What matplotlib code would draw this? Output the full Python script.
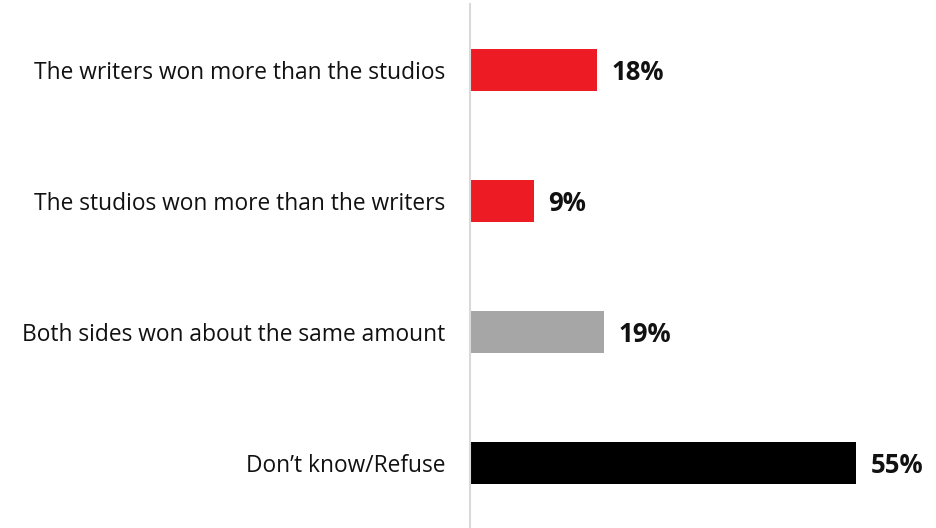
import matplotlib.pyplot as plt

categories = [
    "The writers won more than the studios",
    "The studios won more than the writers",
    "Both sides won about the same amount",
    "Don\u2019t know/Refuse",
]
values = [18, 9, 19, 55]
colors = ["#ED1C24", "#ED1C24", "#A6A6A6", "#000000"]

plt.rcParams["font.family"] = ["Open Sans", "DejaVu Sans"]

fig = plt.figure(figsize=(9.37, 5.28), dpi=100)
ax = fig.add_axes([470 / 937, 1 / 528, 467 / 937, 523 / 528])

pos = list(range(len(categories)))
ax.barh(pos, values, height=0.32, color=colors, left=0.15)
ax.set_ylim(3.49, -0.5)
ax.set_xlim(0, 66.7)

# bold value labels just past the end of each bar
for p, v in zip(pos, values):
    ax.text(v + 2.2, p + 0.02, f"{v}%", va="center", ha="left",
            fontsize=18.5, fontweight="bold", color="#111111")

ax.set_yticks(pos)
ax.set_yticklabels(categories, fontsize=16.4, color="#111111")
ax.tick_params(axis="y", length=0, pad=18)
ax.set_xticks([])

for side in ["top", "right", "bottom"]:
    ax.spines[side].set_visible(False)
ax.spines["left"].set_color("#D9D9D9")
ax.spines["left"].set_linewidth(1.5)

fig.savefig("out.png", dpi=100)
